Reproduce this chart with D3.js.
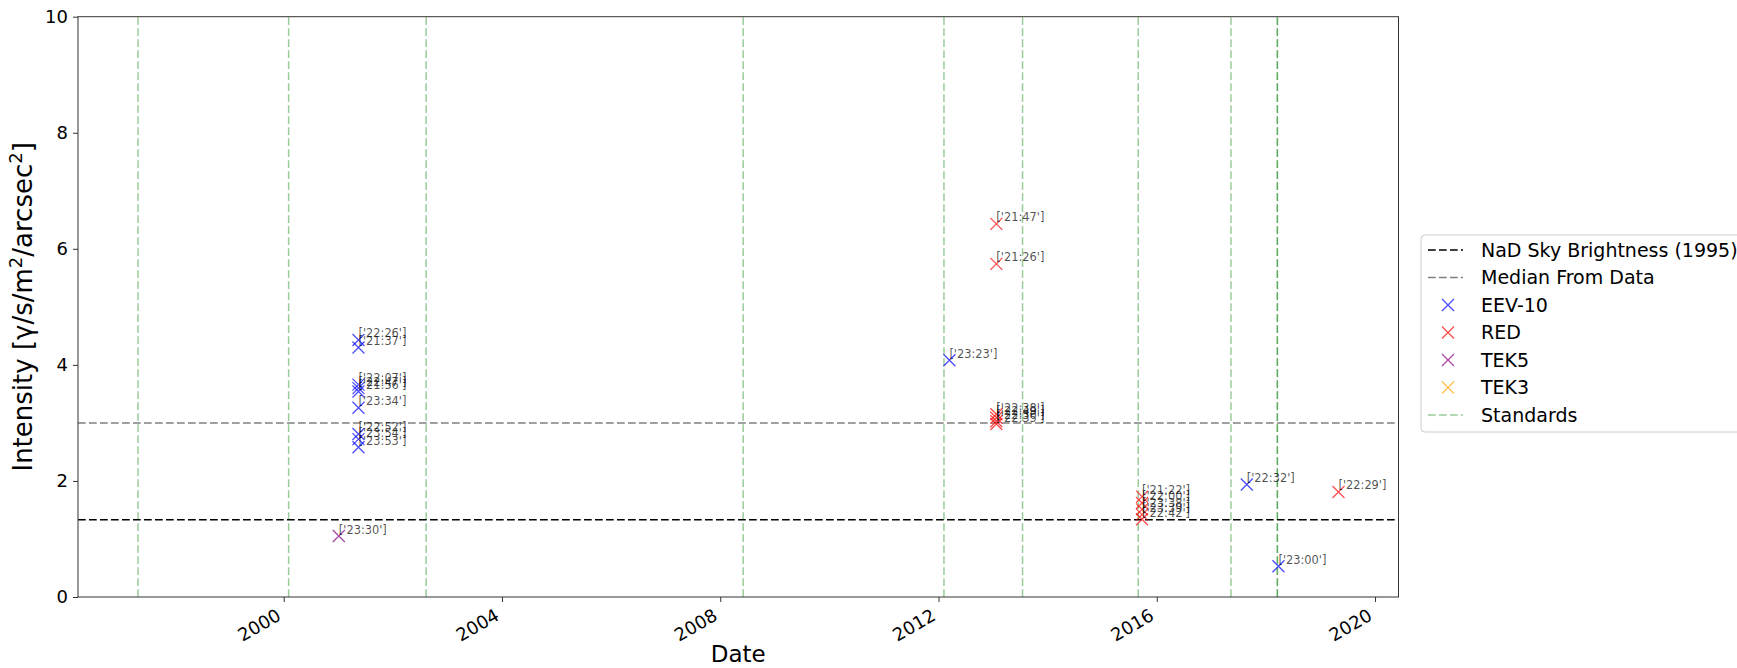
<!DOCTYPE html>
<html>
<head>
<meta charset="utf-8">
<script src="https://cdn.jsdelivr.net/npm/d3@7"></script>
<style>
  body { margin: 0; background: #fff; }
  svg { display: block; font-family: "DejaVu Sans", sans-serif; }
</style>
</head>
<body>
<svg id="chart" width="1737" height="668"></svg>
<script>
// decimal years
const eevDates  = [2001.37, 2001.37, 2001.37, 2001.37, 2001.37, 2001.37, 2001.37, 2001.37, 2001.37, 2012.2, 2017.65, 2018.23];
const eevValues = [4.43, 4.30, 3.66, 3.60, 3.54, 3.26, 2.81, 2.72, 2.58, 4.08, 1.94, 0.53];
const eevTimes  = ['22:26', '21:37', '22:07', '22:47', '21:56', '23:34', '22:52', '23:54', '23:53', '23:23', '22:32', '23:00'];

const redDates  = [2013.06, 2013.06, 2013.06, 2013.06, 2013.06, 2013.06, 2015.73, 2015.73, 2015.73, 2015.73, 2015.73, 2019.33];
const redValues = [6.43, 5.74, 3.15, 3.09, 3.03, 2.98, 1.73, 1.62, 1.51, 1.42, 1.34, 1.81];
const redTimes  = ['21:47', '21:26', '22:38', '22:49', '22:30', '22:35', '21:22', '22:00', '23:38', '23:39', '22:42', '22:29'];

const tek5Dates  = [2001.01];
const tek5Values = [1.05];
const tek5Times  = ['23:30'];

const tek3Dates  = [];
const tek3Values = [];
const tek3Times  = [];

const standardDates = [1997.33, 2000.09, 2002.61, 2008.42, 2012.10, 2013.54, 2015.66, 2017.36, 2018.21, 2018.21];

const nadSky = 1.33;
const medianFromData = 3.0;

const xTicks = [2000, 2004, 2008, 2012, 2016, 2020];
const yTicks = [0, 2, 4, 6, 8, 10];

const seriesNames = ['EEV-10', 'RED', 'TEK5', 'TEK3'];
const seriesColors = ['#0000ff', '#ff0000', '#800080', '#ffa500'];

const series = [
    { name: 'EEV-10', dates: eevDates, values: eevValues, times: eevTimes },
    { name: 'RED', dates: redDates, values: redValues, times: redTimes },
    { name: 'TEK5', dates: tek5Dates, values: tek5Values, times: tek5Times },
    { name: 'TEK3', dates: tek3Dates, values: tek3Values, times: tek3Times },
];

const margin = { top: 16.7, left: 78, right: 1398.5, bottom: 597 };

const svg = d3.select('#chart');

const x = d3.scaleLinear().domain([1996.23, 2020.43]).range([margin.left, margin.right]);
const y = d3.scaleLinear().domain([0, 10]).range([margin.bottom, margin.top]);
const color = d3.scaleOrdinal().domain(seriesNames).range(seriesColors);

const plot = svg.append('g');

// standards (vertical green lines)
plot.selectAll('.std')
    .data(standardDates)
    .join('line')
    .attr('class', 'std')
    .attr('x1', d => x(d)).attr('x2', d => x(d))
    .attr('y1', y(0)).attr('y2', y(10))
    .attr('stroke', '#008000')
    .attr('stroke-opacity', 0.4)
    .attr('stroke-width', 1.5)
    .attr('stroke-dasharray', '7.7,3.3');

// horizontal reference lines
plot.append('line')
    .attr('x1', margin.left).attr('x2', margin.right)
    .attr('y1', y(nadSky)).attr('y2', y(nadSky))
    .attr('stroke', '#000')
    .attr('stroke-width', 1.5)
    .attr('stroke-dasharray', '7.7,3.3');

plot.append('line')
    .attr('x1', margin.left).attr('x2', margin.right)
    .attr('y1', y(medianFromData)).attr('y2', y(medianFromData))
    .attr('stroke', '#808080')
    .attr('stroke-width', 1.5)
    .attr('stroke-dasharray', '7.7,3.3');

// x markers
const xPath = s => `M${-s},${-s}L${s},${s}M${-s},${s}L${s},${-s}`;

series.forEach(s => {
    const pts = s.dates.map((d, i) => ({ date: d, value: s.values[i], time: s.times[i] }));
    const g = plot.append('g');
    g.selectAll('path')
        .data(pts)
        .join('path')
        .attr('transform', d => `translate(${x(d.date)},${y(d.value)})`)
        .attr('d', xPath(6))
        .attr('fill', 'none')
        .attr('stroke', color(s.name))
        .attr('stroke-opacity', 0.7)
        .attr('stroke-width', 1.3);
    g.selectAll('text')
        .data(pts)
        .join('text')
        .attr('x', d => x(d.date))
        .attr('y', d => y(d.value) - 2.5)
        .attr('font-size', 11.4)
        .attr('fill', '#000')
        .attr('fill-opacity', 0.7)
        .text(d => `['${d.time}']`);
});

// axes frame
svg.append('rect')
    .attr('x', margin.left).attr('y', margin.top)
    .attr('width', margin.right - margin.left)
    .attr('height', margin.bottom - margin.top)
    .attr('fill', 'none')
    .attr('stroke', '#333')
    .attr('stroke-width', 1);

// y axis
const yAxis = svg.append('g')
    .attr('transform', `translate(${margin.left},0)`)
    .call(d3.axisLeft(y).tickValues(yTicks).tickSize(5).tickPadding(5).tickFormat(d3.format('d')));
yAxis.select('.domain').remove();
yAxis.selectAll('line').attr('stroke', '#333');
yAxis.selectAll('text').attr('font-size', 18).attr('fill', '#000').attr('font-family', 'DejaVu Sans');

// x axis
const xAxis = svg.append('g')
    .attr('transform', `translate(0,${margin.bottom})`)
    .call(d3.axisBottom(x).tickValues(xTicks).tickSize(5).tickFormat(d3.format('d')));
xAxis.select('.domain').remove();
xAxis.selectAll('line').attr('stroke', '#333');
xAxis.selectAll('text')
    .attr('font-size', 18)
    .attr('fill', '#000')
    .attr('font-family', 'DejaVu Sans')
    .attr('text-anchor', 'end')
    .attr('dy', null)
    .attr('y', 0)
    .attr('transform', 'translate(-2,22) rotate(-30)');

// axis labels
svg.append('text')
    .attr('x', (margin.left + margin.right) / 2)
    .attr('y', 662)
    .attr('text-anchor', 'middle')
    .attr('font-size', 23)
    .text('Date');

const yLabel = svg.append('text')
    .attr('transform', `translate(32,${(margin.top + margin.bottom) / 2}) rotate(-90)`)
    .attr('text-anchor', 'middle')
    .attr('font-size', 26);
yLabel.append('tspan').text('Intensity [\u03b3/s/m');
yLabel.append('tspan').attr('baseline-shift', 'super').attr('font-size', 18).text('2');
yLabel.append('tspan').text('/arcsec');
yLabel.append('tspan').attr('baseline-shift', 'super').attr('font-size', 18).text('2');
yLabel.append('tspan').text(']');

// legend
const legendItems = [
    { label: 'NaD Sky Brightness (1995)', type: 'line', color: '#000', opacity: 1 },
    { label: 'Median From Data', type: 'line', color: '#808080', opacity: 1 },
    ...seriesNames.map(n => ({ label: n, type: 'marker', color: color(n), opacity: 0.7 })),
    { label: 'Standards', type: 'line', color: '#008000', opacity: 0.4 },
];

const legend = svg.append('g').attr('transform', 'translate(1421,235)');
legend.append('rect')
    .attr('width', 340).attr('height', 197)
    .attr('rx', 4)
    .attr('fill', '#fff').attr('fill-opacity', 0.8)
    .attr('stroke', '#ccc');

const rows = legend.selectAll('.row')
    .data(legendItems)
    .join('g')
    .attr('class', 'row')
    .attr('transform', (d, i) => `translate(0,${15 + i * 27.5})`);

rows.filter(d => d.type === 'line').append('line')
    .attr('x1', 7).attr('x2', 42)
    .attr('stroke', d => d.color)
    .attr('stroke-opacity', d => d.opacity)
    .attr('stroke-width', 1.5)
    .attr('stroke-dasharray', '7.7,3.3');

rows.filter(d => d.type === 'marker').append('path')
    .attr('transform', 'translate(27,0)')
    .attr('d', xPath(6))
    .attr('fill', 'none')
    .attr('stroke', d => d.color)
    .attr('stroke-opacity', d => d.opacity)
    .attr('stroke-width', 1.3);

rows.append('text')
    .attr('x', 60)
    .attr('dy', '0.35em')
    .attr('font-size', 19)
    .text(d => d.label);
</script>
</body>
</html>
